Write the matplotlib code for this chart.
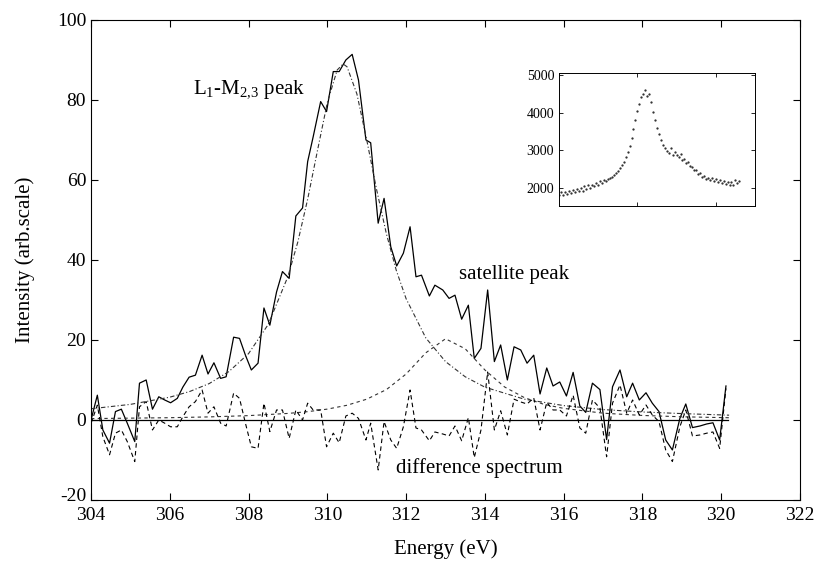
import numpy as np
import matplotlib
matplotlib.use("Agg")
import matplotlib.pyplot as plt
from matplotlib.transforms import ScaledTranslation

plt.rcParams['font.family'] = ['Liberation Serif', 'DejaVu Serif']
plt.rcParams['mathtext.fontset'] = 'custom'
plt.rcParams['mathtext.rm'] = 'Liberation Serif'
plt.rcParams['axes.unicode_minus'] = False

# measured spectrum (solid) and difference spectrum share the same energies
energy = [304.00, 304.16, 304.30, 304.47, 304.62, 304.77, 304.92, 305.11, 305.23, 305.40,
          305.56, 305.72, 305.87, 306.02, 306.19, 306.33, 306.49, 306.65, 306.82, 306.97,
          307.12, 307.29, 307.43, 307.62, 307.77, 307.92, 308.07, 308.24, 308.39, 308.54,
          308.71, 308.86, 309.03, 309.20, 309.37, 309.50, 309.64, 309.83, 309.98, 310.15,
          310.30, 310.47, 310.63, 310.79, 310.98, 311.10, 311.29, 311.44, 311.61, 311.76,
          311.93, 312.10, 312.25, 312.39, 312.59, 312.73, 312.93, 313.09, 313.24, 313.41,
          313.58, 313.73, 313.90, 314.07, 314.24, 314.40, 314.57, 314.74, 314.91, 315.07,
          315.24, 315.40, 315.57, 315.73, 315.90, 316.07, 316.24, 316.41, 316.56, 316.73,
          316.92, 317.09, 317.24, 317.43, 317.60, 317.75, 317.92, 318.09, 318.25, 318.42,
          318.59, 318.76, 318.95, 319.10, 319.27, 319.46, 319.63, 319.79, 319.96, 320.12]
measured = [0, 6.2, -2.5, -5.8, 2.1, 2.7, -0.8, -5.4, 9.2, 10,
            2.7, 5.8, 5, 4.3, 5.4, 8.2, 10.7, 11.2, 16.2, 11.5,
            14.3, 10.4, 10.8, 20.7, 20.4, 16.2, 12.5, 14.2, 28, 23.7,
            32, 37.1, 35.4, 51, 53, 64.6, 70.8, 79.6, 77.1, 87.1,
            87.1, 90, 91.4, 85, 70, 69.3, 49.2, 55.4, 43.3, 38.5,
            41.7, 48.3, 35.8, 36.2, 31, 33.7, 32.5, 30.4, 31.2, 25.2,
            28.7, 15.4, 17.9, 32.5, 14.6, 18.75, 10, 18.3, 17.5, 14.2,
            16.2, 6.5, 13, 8.5, 9.5, 6, 11.9, 3.5, 1.9, 9.2,
            7.6, -4.9, 8.3, 12.5, 5.8, 9.2, 5, 6.8, 4.2, 2.1,
            -5, -7.5, 0.4, 4, -1.9, -1.5, -1, -0.7, -5, 8.5]
difference = [-0.8, 3.7, -4.2, -8.7, -3.3, -2.5, -5.4, -10.4, 3.3, 4.6,
              -2.5, 0, -0.8, -1.7, -1.7, 0.8, 3.3, 4.6, 7.5, 1.7,
              3.3, -0.8, -1.5, 6.7, 5.4, -0.8, -6.7, -7.1, 4.2, -2.9,
              2.5, 2.5, -4.6, 2.5, 0, 4.2, 2.5, 2.5, -6.7, -3.3,
              -5.7, 1.0, 1.7, 0.4, -5, -0.8, -12.5, -0.4, -5, -7.1,
              -1.7, 7.5, -2, -2.5, -5.2, -3, -3.5, -4, -1.5, -5.2,
              0.6, -9.4, -2.5, 12, -2.5, 2.3, -3.75, 5.2, 4.5, 4,
              5.5, -2.5, 4.4, 2.5, 2.5, 1, 6.2, -2, -3.3, 5,
              3, -9.2, 4.2, 8.75, 1.7, 5, 1.25, 3.75, 1.25, -0.4,
              -7.5, -10.4, -1.7, 2.5, -4, -3.75, -3.3, -3, -7.1, 7.9]

# L1-M2,3 main peak fit
fit_energy = [304, 305, 306, 306.5, 307, 307.5, 308, 308.5, 309, 309.25, 309.5, 309.75,
              310, 310.25, 310.4, 310.5, 310.75, 311, 311.25, 311.5, 311.75, 312, 312.5,
              313, 313.5, 314, 315, 316, 317, 318, 319, 320.2]
fit_main = [2.8, 3.9, 5.7, 7.1, 9.1, 12.1, 16.6, 23.9, 35.9, 44.5, 55.2, 67.4,
            79.4, 87.5, 89, 88.3, 81.5, 70, 57.6, 46.5, 37.4, 30.3, 20.5,
            14.6, 10.8, 8.2, 5.2, 3.6, 2.6, 2.0, 1.6, 1.2]

# satellite peak fit
sat_energy = [304, 306, 307, 308, 309, 309.5, 310, 310.5, 311, 311.5, 312, 312.5, 313,
              313.5, 314, 314.5, 315, 315.5, 316, 317, 318, 319, 320.2]
sat_peak = [0.35, 0.57, 0.77, 1.09, 1.64, 2.08, 2.72, 3.68, 5.2, 7.6, 11.5, 16.8, 20.3,
            17.8, 12.5, 8.25, 5.6, 3.9, 2.9, 1.7, 1.13, 0.8, 0.56]

# inset: raw spectrum (counts)
inset_counts = [1820, 1880, 1800, 1900, 1850, 1930, 1870, 1940, 1890, 1980,
                1910, 2010, 1930, 2060, 1960, 2080, 2000, 2090, 2050, 2130,
                2080, 2170, 2120, 2200, 2180, 2240, 2260, 2300, 2350, 2400,
                2450, 2530, 2600, 2700, 2820, 2960, 3120, 3330, 3560, 3800,
                4050, 4230, 4400, 4480, 4600, 4430, 4500, 4280, 4020, 3800,
                3600, 3420, 3260, 3140, 3060, 2980, 2920, 3050, 2880, 2960,
                2870, 2820, 2890, 2750, 2780, 2660, 2700, 2580, 2560, 2480,
                2470, 2380, 2400, 2300, 2320, 2240, 2270, 2200, 2250, 2170,
                2230, 2150, 2200, 2130, 2180, 2100, 2160, 2090, 2150, 2080,
                2200, 2140, 2190]
inset_channel = np.arange(len(inset_counts)) * 2.5

fig = plt.figure(figsize=(8.15, 5.69), dpi=100)
ax = fig.add_axes([0.1117, 0.1213, 0.8699, 0.8436])

ax.plot(energy, measured, color='black', linewidth=0.9)
ax.plot(fit_energy, fit_main, color='#333333', linewidth=0.8, linestyle=(0, (4, 2, 1, 2)))
ax.plot(sat_energy, sat_peak, color='#333333', linewidth=0.8, linestyle=(0, (3, 3)))
ax.plot(energy, difference, color='black', linewidth=0.8, linestyle=(0, (4, 3)))
ax.plot([304, 320.17], [0, 0], color='black', linewidth=0.9)

ax.set_xlim(304, 322)
ax.set_ylim(-20, 100)
ax.set_xticks(np.arange(304, 323, 2))
ax.set_yticks(np.arange(-20, 101, 20))
ax.tick_params(direction='in', top=True, right=True, length=5, width=0.8, labelsize=14)
ax.tick_params(axis='x', pad=5)
for s in ax.spines.values():
    s.set_linewidth(0.8)
ax.set_xlabel('Energy (eV)', fontsize=15, labelpad=11)
ax.set_ylabel('Intensity (arb.scale)', fontsize=15, labelpad=16)

# lift the -20 label a little so it does not collide with 304
low = ax.yaxis.get_major_ticks()[0].label1
low.set_transform(low.get_transform() + ScaledTranslation(0, 4 / 72, fig.dpi_scale_trans))

ax.text(306.59, 82.5, r'L$\mathregular{_1}$-M$\mathregular{_{2,\!3}}$ peak', fontsize=15, va='center')
ax.text(313.34, 36.3, 'satellite peak', fontsize=15, va='center')
ax.text(311.74, -12, 'difference spectrum', fontsize=15, va='center')

ins = fig.add_axes([0.6859, 0.638, 0.2405, 0.2337])
ins.plot(inset_channel, inset_counts, linestyle='none', marker='.', markersize=1.2, color='#222222')
ins.set_xlim(0, 250)
ins.set_ylim(1520, 5050)
ins.set_xticks([100, 200])
ins.set_xticklabels([])
ins.set_yticks([2000, 3000, 4000, 5000])
ins.tick_params(direction='in', top=True, right=True, length=3, width=0.6, labelsize=10)
for s in ins.spines.values():
    s.set_linewidth(0.7)

fig.savefig('out.png', dpi=100)
